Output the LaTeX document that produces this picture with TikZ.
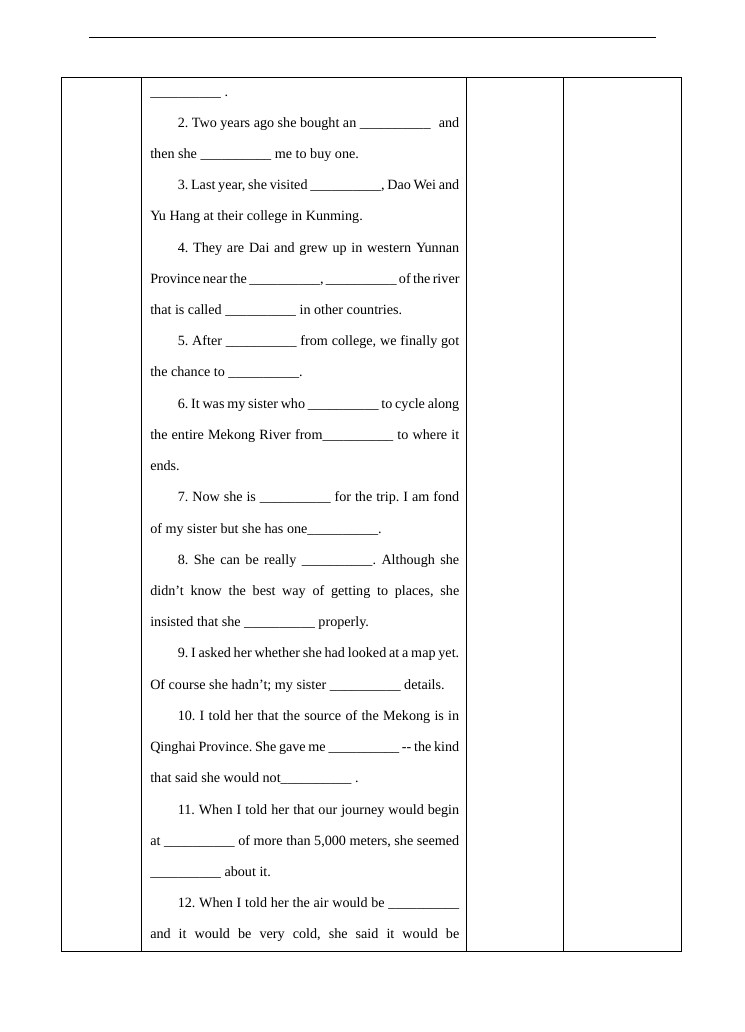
\documentclass[tikz,border=0pt]{standalone}
\usepackage{fontspec}
\setmainfont{Liberation Serif}
\frenchspacing
\newcommand\blank{\_\_\_\_\_\_\_\_\_\_}
\newcommand\fw[1]{\makebox[246.8pt][s]{#1}}
\newcommand\iw[1]{\makebox[224.8pt][s]{#1}}
\tikzset{
  txt/.style={anchor=base west, inner sep=0pt, font=\fontsize{11.3pt}{13pt}\selectfont\frenchspacing},
  rule/.style={line width=0.8pt, black},
}
\begin{document}
\begin{tikzpicture}[x=0.79866pt,y=-0.79866pt]
\useasboundingbox[fill=white] (0,0) rectangle (745,1032);
% header line
\coordinate (hl) at (89,37.3);
\coordinate (hr) at (656,37.3);
\draw[rule] (hl) -- (hr);
% table
\coordinate (tl) at (61.5,77);
\coordinate (br) at (681.5,951);
\draw[rule] (tl) rectangle (br);
\foreach \x/\n in {141.5/a,466/b,563.3/c}{
  \coordinate (top\n) at (\x,77);
  \coordinate (bot\n) at (\x,951);
  \draw[rule] (top\n) -- (bot\n);
}
% text lines (baseline y = 96 + (i-1)*31.22)
\node[txt] (l1)  at (150,96.00)  {\blank\ .};
\node[txt] (l2)  at (177.5,127.22) {\makebox[224.8pt][l]{2. Two years ago she bought an \blank\hfill and}};
\node[txt] (l3)  at (150,158.44) {then she \blank\ me to buy one.};
\node[txt] (l4)  at (177.5,189.66) {\iw{3. Last year, she visited \blank, Dao Wei and}};
\node[txt] (l5)  at (150,220.88) {Yu Hang at their college in Kunming.};
\node[txt] (l6)  at (177.5,252.10) {\iw{4. They are Dai and grew up in western Yunnan}};
\node[txt] (l7)  at (150,283.32) {\fw{Province near the \blank, \blank\ of the river}};
\node[txt] (l8)  at (150,314.54) {that is called \blank\ in other countries.};
\node[txt] (l9)  at (177.5,345.76) {\iw{5. After \blank\ from college, we finally got}};
\node[txt] (l10) at (150,376.98) {the chance to \blank.};
\node[txt] (l11) at (177.5,408.20) {\iw{6. It was my sister who \blank\ to cycle along}};
\node[txt] (l12) at (150,439.42) {\fw{the entire Mekong River from\blank\ to where it}};
\node[txt] (l13) at (150,470.64) {ends.};
\node[txt] (l14) at (177.5,501.86) {\iw{7. Now she is \blank\ for the trip. I am fond}};
\node[txt] (l15) at (150,533.08) {of my sister but she has one\blank.};
\node[txt] (l16) at (177.5,564.30) {\iw{8. She can be really \blank. Although she}};
\node[txt] (l17) at (150,595.52) {\fw{didn’t know the best way of getting to places, she}};
\node[txt] (l18) at (150,626.74) {insisted that she \blank\ properly.};
\node[txt] (l19) at (177.5,657.96) {\iw{9. I asked her whether she had looked at a map yet.}};
\node[txt] (l20) at (150,689.18) {Of course she hadn’t; my sister \blank\ details.};
\node[txt] (l21) at (177.5,720.40) {\iw{10. I told her that the source of the Mekong is in}};
\node[txt] (l22) at (150,751.62) {\fw{Qinghai Province. She gave me \blank\ -{}- the kind}};
\node[txt] (l23) at (150,782.84) {that said she would not\blank\ .};
\node[txt] (l24) at (177.5,814.06) {\iw{11. When I told her that our journey would begin}};
\node[txt] (l25) at (150,845.28) {\fw{at \blank\ of more than 5,000 meters, she seemed}};
\node[txt] (l26) at (150,876.50) {\blank\ about it.};
\node[txt] (l27) at (177.5,907.72) {\iw{12. When I told her the air would be \blank}};
\node[txt] (l28) at (150,938.94) {\fw{and it would be very cold, she said it would be}};
\end{tikzpicture}
\end{document}
